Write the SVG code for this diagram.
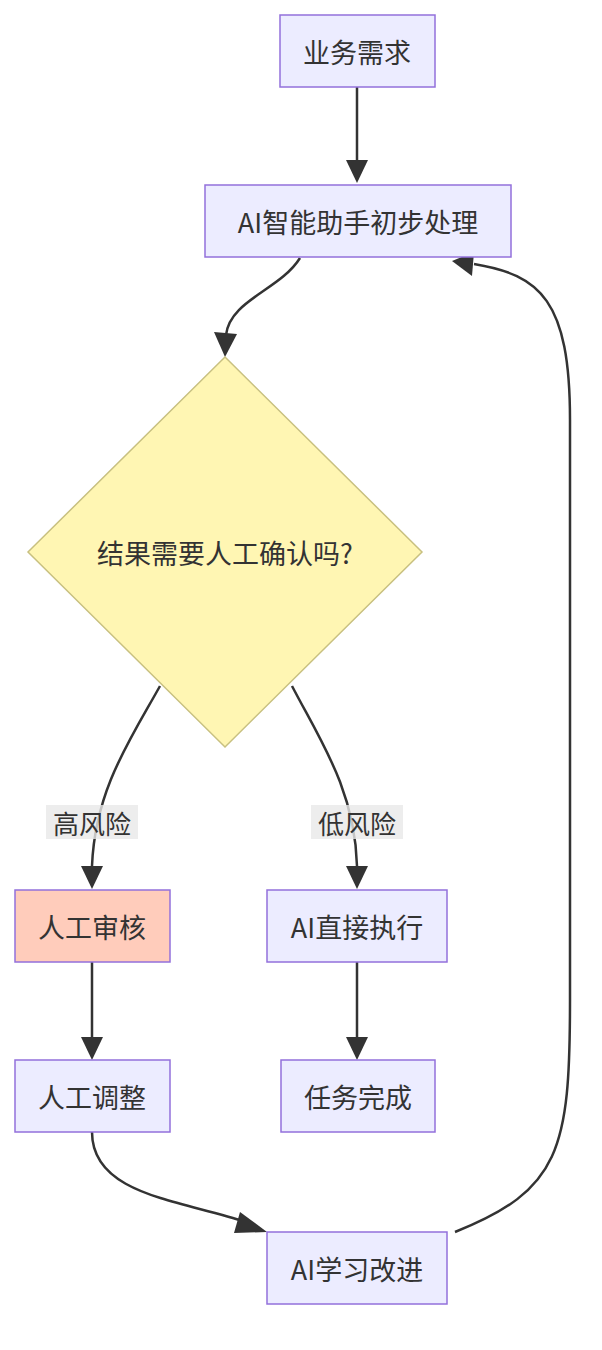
<svg xmlns="http://www.w3.org/2000/svg" width="602" height="1350" viewBox="0 0 602 1350">
<style>
.n{fill:#ececff;stroke:#9370db;stroke-width:1.5}
.t{font-family:"Noto Sans CJK SC","Noto Sans",sans-serif;font-size:27px;fill:#333;text-anchor:middle;dominant-baseline:central}
.e{fill:none;stroke:#333;stroke-width:2.5}
.h{fill:#333}
.lb{fill:#e8e8e8;opacity:0.8}
</style>
<rect width="602" height="1350" fill="#fff"/>
<g id="connectors">
<path class="e" d="M357,87 L357,162"/><path class="h" d="M346,160 L368,160 L357,183z"/>
<path class="e" d="M300,258 C280,290 230,300 226,335"/><path class="h" d="M214,332 L237,334 L225,357z"/>
<path class="e" d="M160,686 C130,740 95,790 92,866"/><path class="h" d="M81,866 L103,866 L92,889z"/>
<path class="e" d="M292,686 C320,740 355,790 357,866"/><path class="h" d="M346,866 L368,866 L357,889z"/>
<path class="e" d="M92,962 L92,1037"/><path class="h" d="M81,1037 L103,1037 L92,1060z"/>
<path class="e" d="M357,962 L357,1037"/><path class="h" d="M346,1037 L368,1037 L357,1060z"/>
<path class="e" d="M92,1132 C92,1195 180,1200 246,1222"/><path class="h" d="M240,1212 L267,1232 L234,1233z"/>
<path class="e" d="M455,1232 C560,1190 570,1150 570,1000 L570,420 C570,300 540,275 474,264"/><path class="h" d="M474,252 L452,261 L472,276z"/>
<rect class="lb" x="46" y="805" width="92" height="34"/>
<text class="t" x="92" y="822" style="font-size:26px">高风险</text>
<rect class="lb" x="311" y="805" width="92" height="34"/>
<text class="t" x="357" y="822" style="font-size:26px">低风险</text>
</g>
<g id="n1"><rect class="n" x="280" y="15" width="155" height="72"/><text class="t" x="357" y="51">业务需求</text></g>
<g id="n2"><rect class="n" x="205" y="185" width="306" height="72"/><text class="t" x="358" y="221">AI智能助手初步处理</text></g>
<g id="n3"><polygon points="225,357 422,552 225,747 28,552" fill="#fff6b3" stroke="#c8c080" stroke-width="1.5"/><text class="t" x="225" y="552">结果需要人工确认吗?</text></g>
<g id="n4"><rect class="n" x="15" y="890" width="155" height="72" style="fill:#ffccbb"/><text class="t" x="92" y="926">人工审核</text></g>
<g id="n5"><rect class="n" x="267" y="890" width="180" height="72"/><text class="t" x="357" y="926">AI直接执行</text></g>
<g id="n6"><rect class="n" x="15" y="1060" width="155" height="72"/><text class="t" x="92" y="1096">人工调整</text></g>
<g id="n7"><rect class="n" x="281" y="1060" width="154" height="72"/><text class="t" x="358" y="1096">任务完成</text></g>
<g id="n8"><rect class="n" x="267" y="1232" width="180" height="72"/><text class="t" x="357" y="1268">AI学习改进</text></g>
</svg>
